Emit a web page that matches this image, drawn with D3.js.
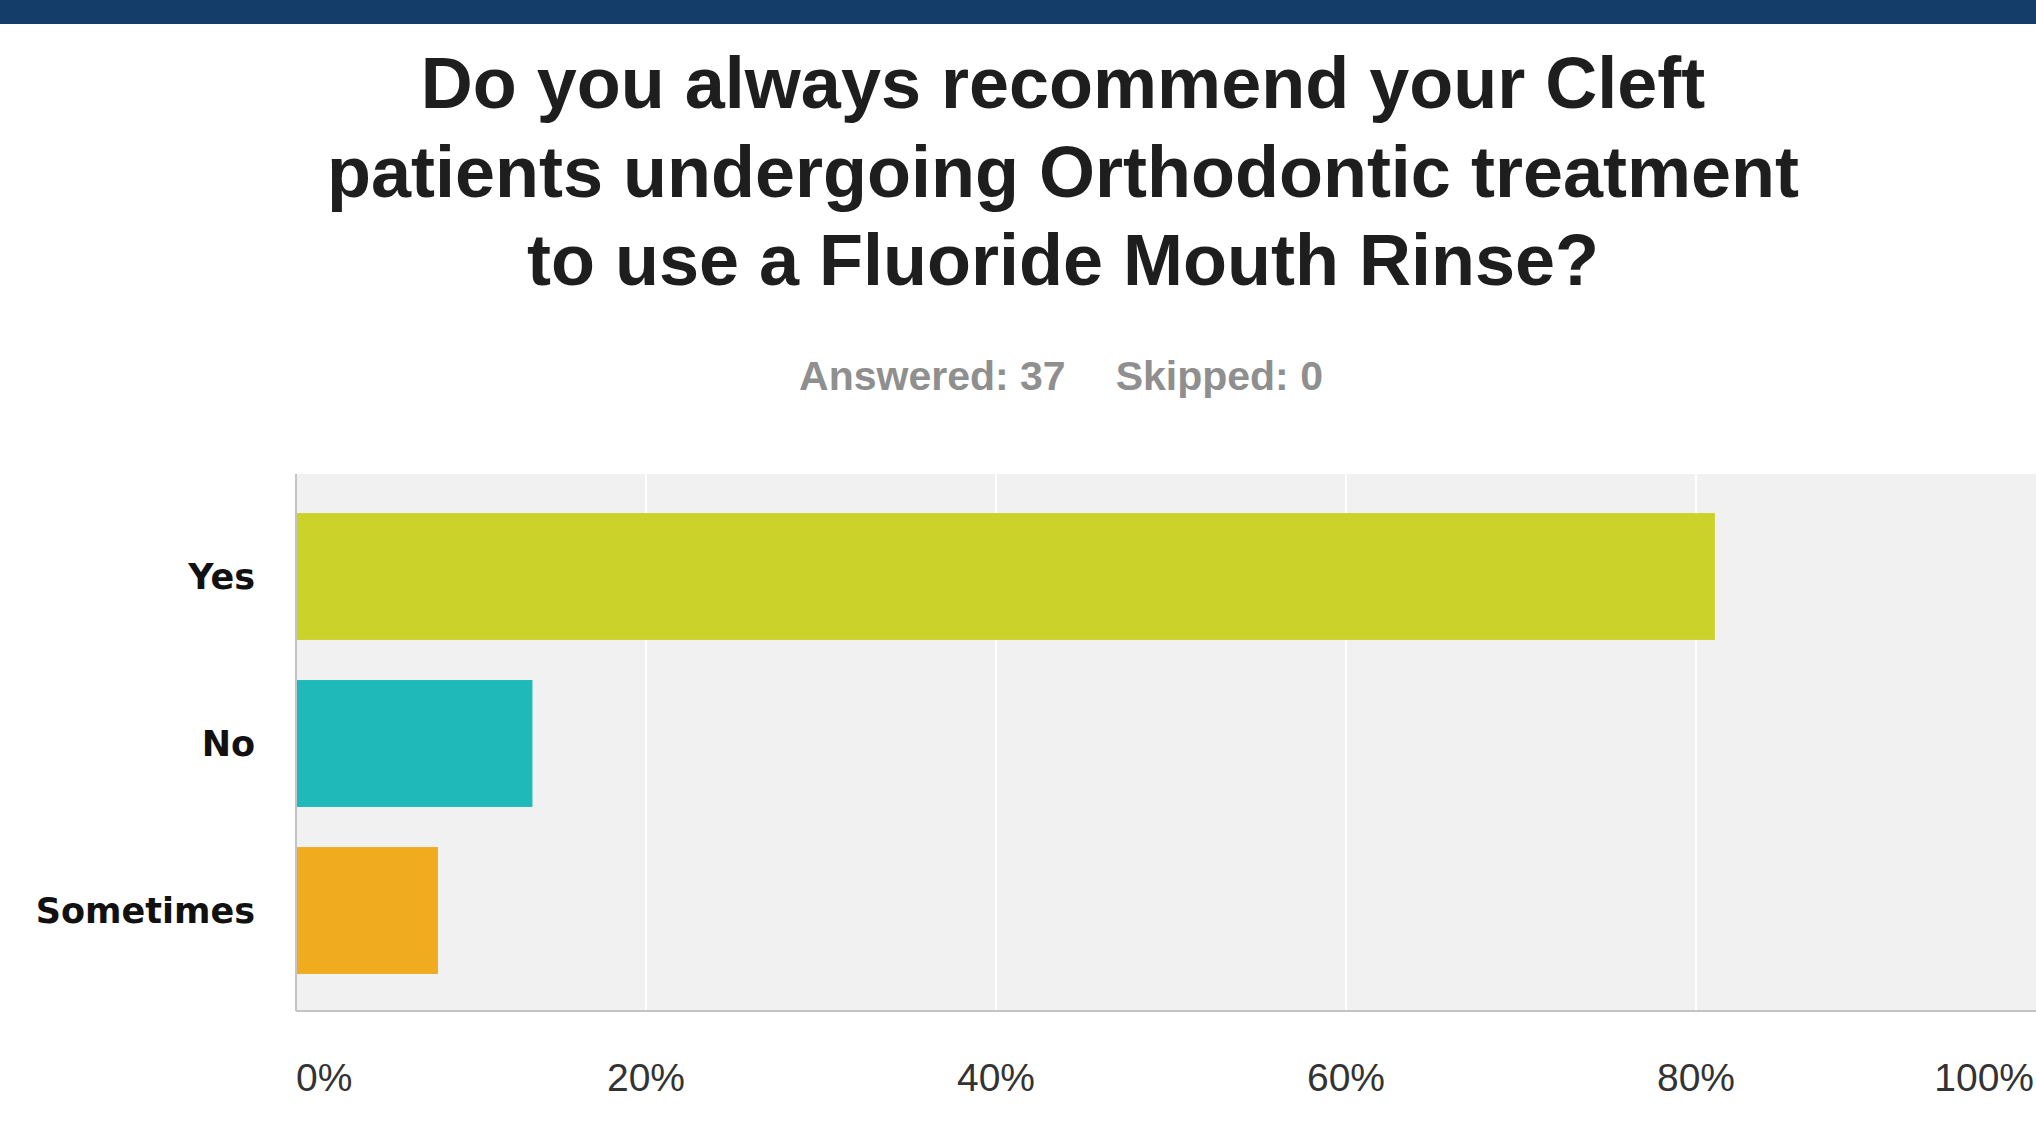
<!DOCTYPE html>
<html>
<head>
<meta charset="utf-8">
<script src="https://cdn.jsdelivr.net/npm/d3@7"></script>
<style>
  html, body { margin: 0; padding: 0; background: #fff; overflow: hidden; }
</style>
</head>
<body>
<div id="graph"></div>
<script>
// survey answers, in percent of respondents
var answers = ["Yes", "No", "Sometimes"];
var percents = [81.08, 13.51, 8.11];
var barColors = ["#cbd32a", "#1fb9b9", "#f1ab1e"];
var ticks = [0, 20, 40, 60, 80, 100];
var titleLines = ["Do you always recommend your Cleft",
                  "patients undergoing Orthodontic treatment",
                  "to use a Fluoride Mouth Rinse?"];
var answered = 37, skipped = 0;

var W = 2036, H = 1125;
var plotTop = 474, plotBottom = 1011, plotLeft = 296;

var vis = d3.select('#graph').append('svg')
    .attr("width", W)
    .attr("height", H);

// navy strip across the top
vis.append("rect")
    .attr("x", 0).attr("y", 0)
    .attr("width", W).attr("height", 24)
    .attr("fill", "#143d69");

vis.selectAll("text.title")
    .data(titleLines)
    .enter().append("text")
    .attr("class", "title")
    .attr("x", 1063)
    .attr("y", function(d, i) { return 108 + i * 88.5; })
    .attr("text-anchor", "middle")
    .style("font-family", "'Liberation Sans', Arial, sans-serif")
    .style("font-weight", "bold")
    .style("font-size", "72px")
    .style("fill", "#1e1e1e")
    .text(function(d) { return d; });

var stats = vis.append("text")
    .attr("x", 1061)
    .attr("y", 390)
    .attr("text-anchor", "middle")
    .style("font-family", "'Liberation Sans', Arial, sans-serif")
    .style("font-weight", "bold")
    .style("font-size", "41px")
    .style("fill", "#8f8f8f");
stats.append("tspan").text("Answered: " + answered);
stats.append("tspan").attr("dx", 50).text("Skipped: " + skipped);

var x = d3.scaleLinear().domain([0, 100]).range([plotLeft, 2046]);

var y = d3.scaleBand()
    .domain(answers)
    .range([493, 994])
    .paddingInner(0.24)
    .paddingOuter(0.12);

vis.append("rect")
    .attr("x", plotLeft).attr("y", plotTop)
    .attr("width", W - plotLeft).attr("height", plotBottom - plotTop)
    .attr("fill", "#f1f1f1");

vis.selectAll("line.grid")
    .data(ticks.slice(1))
    .enter().append("line")
    .attr("class", "grid")
    .attr("x1", function(d) { return x(d); })
    .attr("x2", function(d) { return x(d); })
    .attr("y1", plotTop)
    .attr("y2", plotBottom)
    .style("stroke", "#ffffff")
    .style("stroke-width", 2);

vis.selectAll("rect.bar")
    .data(answers)
    .enter().append("rect")
    .attr("class", "bar")
    .attr("x", x(0))
    .attr("y", function(d) { return y(d); })
    .attr("width", function(d, i) { return x(percents[i]) - x(0); })
    .attr("height", y.bandwidth())
    .attr("fill", function(d, i) { return barColors[i]; });

// axis lines
vis.append("line")
    .attr("x1", plotLeft).attr("x2", plotLeft)
    .attr("y1", plotTop).attr("y2", plotBottom)
    .style("stroke", "#c4c4c4").style("stroke-width", 2);
vis.append("line")
    .attr("x1", plotLeft).attr("x2", W)
    .attr("y1", plotBottom).attr("y2", plotBottom)
    .style("stroke", "#c4c4c4").style("stroke-width", 2);

vis.selectAll("text.cat")
    .data(answers)
    .enter().append("text")
    .attr("class", "cat")
    .attr("x", 255)
    .attr("y", function(d) { return y(d) + y.bandwidth() / 2; })
    .attr("dy", "0.36em")
    .attr("text-anchor", "end")
    .style("font-family", "'DejaVu Sans', Verdana, sans-serif")
    .style("font-weight", "bold")
    .style("font-size", "35px")
    .style("fill", "#111")
    .text(function(d) { return d; });

// first and last tick labels are pulled inside the plot edges
vis.selectAll("text.tick")
    .data(ticks)
    .enter().append("text")
    .attr("class", "tick")
    .attr("x", function(d, i) { return i === ticks.length - 1 ? W - 2 : x(d); })
    .attr("y", 1091)
    .attr("text-anchor", function(d, i) { return i === 0 ? "start" : (i === ticks.length - 1 ? "end" : "middle"); })
    .style("font-family", "'Liberation Sans', Arial, sans-serif")
    .style("font-size", "39px")
    .style("fill", "#333")
    .text(function(d) { return d + "%"; });
</script>
</body>
</html>
